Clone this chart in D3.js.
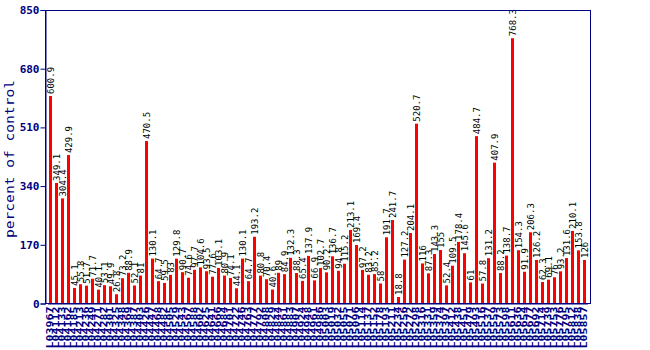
<!DOCTYPE html>
<html>
<head>
<meta charset="utf-8">
<script src="https://cdn.jsdelivr.net/npm/d3@7"></script>
<style>
  html, body { margin: 0; padding: 0; background: #fff; }
  svg { display: block; }
</style>
</head>
<body>
<svg id="chart" width="650" height="350"></svg>
<script>
const categories = [
  "L03967","L04112","L04133","L04162","L04185","L04213","L04236","L04249","L04271","L04282",
  "L04301","L04325","L04348","L04369","L04387","L04403","L04426","L04447","L04468","L04482",
  "L04505","L04529","L04543","L04567","L04588","L04602","L04625","L04641","L04666","L04684",
  "L04701","L04722","L04746","L04763","L04777","L04792","L04808","L04829","L04844","L04861",
  "L04883","L04907","L04924","L04948","L04961","L04986","L05003","L05019","L05032","L05055",
  "L05071","L05096","L05114","L05137","L05152","L05178","L05193","L05211","L05234","L05256",
  "L05272","L05298","L05316","L05331","L05359","L05374","L05397","L05412","L05438","L05451",
  "L05479","L05493","L05516","L05537","L05559","L05573","L05598","L05611","L05636","L05654",
  "L05677","L05692","L05714","L05739","L05753","L05776","L05795","L05812","L05838","L05857"
];
const values = [
  600.9, 349.1, 304.4, 429.9, 45.1, 55.8, 51.7, 71.7, 40.1, 53.1,
  49.9, 26.8, 73.2, 88.9, 52.1, 81, 470.5, 130.1, 64.7, 59.5,
  83, 129.8, 90.7, 74.6, 97.7, 104.6, 93.5, 77.6, 103.1, 80.9,
  74.1, 44.1, 130.1, 64.7, 193.2, 80.8, 70.4, 40.6, 89, 84.9,
  132.3, 88.3, 65.4, 137.9, 66.9, 102.7, 90.2, 136.7, 94.8, 115.2,
  213.1, 169.4, 97.2, 83.2, 85.2, 58, 191.7, 241.7, 18.8, 127.2,
  204.1, 520.7, 116, 87.3, 143.3, 155, 52.4, 109.5, 178.4, 145.6,
  61, 484.7, 57.8, 131.2, 407.9, 88.2, 138.7, 768.3, 154.3, 91.9,
  206.3, 126.2, 62.3, 69.1, 76, 93.2, 131.6, 210.1, 153.8, 126
];
const yTicks = [0, 170, 340, 510, 680, 850];
const yTitle = "percent of control";

const navy = "#000080";
const svg = d3.select("#chart");
const plot = { left: 45, right: 591, top: 10, bottom: 304 };

const x = d3.scaleBand()
  .domain(categories)
  .range([plot.left + 2.5, plot.right - 3.5])
  .paddingInner(0.5)
  .paddingOuter(0.25);

const y = d3.scaleLinear()
  .domain([0, 850])
  .range([plot.bottom - 0.5, plot.top]);

// bars
svg.append("g")
  .selectAll("rect")
  .data(values)
  .join("rect")
  .attr("x", (d, i) => x(categories[i]))
  .attr("width", x.bandwidth())
  .attr("y", d => y(d))
  .attr("height", d => y(0) - y(d))
  .attr("fill", "#ff0000");

// value labels
svg.append("g")
  .selectAll("text")
  .data(values)
  .join("text")
  .attr("transform", (d, i) => `translate(${x(categories[i]) + x.bandwidth() / 2},${y(d) - 2}) rotate(-90)`)
  .attr("dy", "0.35em")
  .attr("text-anchor", "start")
  .attr("font-family", "DejaVu Sans Mono, monospace")
  .attr("font-size", 9)
  .attr("fill", "#000")
  .text(d => String(d));

// frame
svg.append("rect")
  .attr("x", plot.left + 0.5)
  .attr("y", plot.top + 0.5)
  .attr("width", plot.right - plot.left - 1)
  .attr("height", plot.bottom - plot.top - 1)
  .attr("fill", "none")
  .attr("stroke", navy)
  .attr("stroke-width", 1);

// y axis
const yAxis = svg.append("g")
  .attr("transform", `translate(${plot.left + 0.5},0)`)
  .call(d3.axisLeft(y).tickValues(yTicks).tickSize(5).tickPadding(1).tickFormat(d3.format("d")));
yAxis.select(".domain").attr("stroke", navy);
yAxis.selectAll(".tick line").attr("stroke", navy);
yAxis.selectAll(".tick text")
  .attr("fill", navy)
  .attr("font-family", "DejaVu Sans Mono, monospace")
  .attr("font-weight", "bold")
  .attr("font-size", 11);

// x axis labels
const xAxis = svg.append("g")
  .attr("transform", `translate(0,${plot.bottom - 0.5})`)
  .call(d3.axisBottom(x).tickSize(0).tickPadding(0));
xAxis.select(".domain").attr("stroke", navy);
xAxis.selectAll(".tick text")
  .attr("transform", "rotate(-90)")
  .attr("x", -3)
  .attr("y", 0)
  .attr("dy", "0.35em")
  .attr("text-anchor", "end")
  .attr("fill", navy)
  .attr("font-family", "DejaVu Sans Mono, monospace")
  .attr("font-weight", "bold")
  .attr("font-size", 8)
  .attr("textLength", 42)
  .attr("lengthAdjust", "spacingAndGlyphs");

// y title
svg.append("text")
  .attr("transform", `translate(14,159) rotate(-90)`)
  .attr("text-anchor", "middle")
  .attr("fill", navy)
  .attr("font-family", "DejaVu Sans Mono, monospace")
  .attr("font-size", 13)
  .attr("textLength", 158)
  .attr("lengthAdjust", "spacingAndGlyphs")
  .text(yTitle);
</script>
</body>
</html>
